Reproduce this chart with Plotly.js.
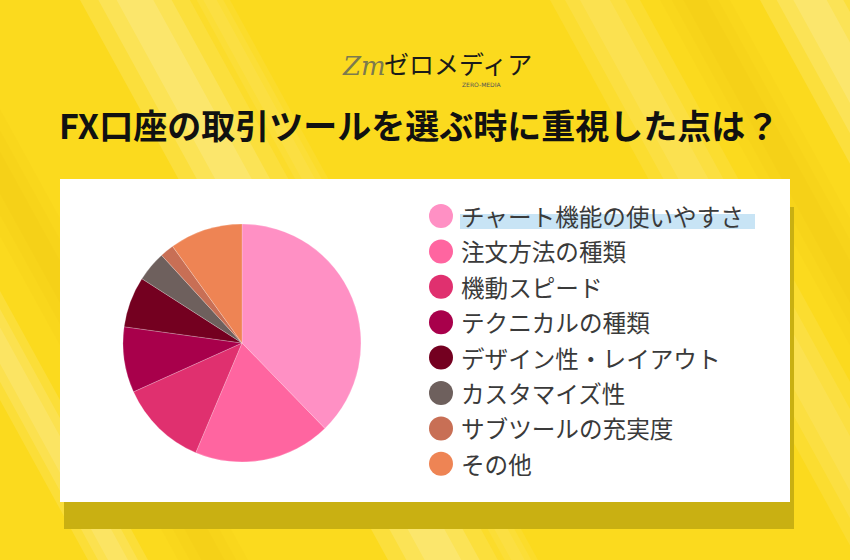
<!DOCTYPE html>
<html>
<head>
<meta charset="utf-8">
<script src="https://cdn.plot.ly/plotly-3.0.1.min.js"></script>
<style>
  html, body { margin: 0; padding: 0; background: #FBDA1E; }
  #chart { width: 850px; height: 560px; }
</style>
</head>
<body>
<div id="chart"></div>
<script>
// ---- data ----
const titleText = "FX口座の取引ツールを選ぶ時に重視した点は？";
const categories = [
  "チャート機能の使いやすさ",
  "注文方法の種類",
  "機動スピード",
  "テクニカルの種類",
  "デザイン性・レイアウト",
  "カスタマイズ性",
  "サブツールの充実度",
  "その他"
];
const values = [37.7, 18.6, 11.9, 8.9, 6.9, 4.1, 1.9, 9.9];
const colors = ["#FF90C4", "#FF65A0", "#E0306F", "#A8004B", "#740020", "#6E605D", "#C86F55", "#EE8454"];

// ---- helpers (pixel -> paper) ----
const W = 850, H = 560;
const px = x => x / W;
const py = y => 1 - y / H;

const shapes = [];
const annotations = [];

// background streaks (diagonal, "\" direction), soft
function streak(xTop, width, opacity, color) {
  const slope = 0.55;
  const layers = 3;
  for (let k = 0; k < layers; k++) {
    const inset = k * width / 6;
    const x0 = xTop + inset, x1 = xTop + width - inset;
    const b0 = x0 + slope * H, b1 = x1 + slope * H;
    shapes.push({
      type: "path", xref: "paper", yref: "paper", layer: "below",
      path: `M ${px(x0)} ${py(0)} L ${px(x1)} ${py(0)} L ${px(b1)} ${py(H)} L ${px(b0)} ${py(H)} Z`,
      fillcolor: color, opacity: opacity / layers, line: { width: 0 }
    });
  }
}
streak(80, 110, 0.40, "#FFFFFF");
streak(190, 40, 0.18, "#FFFFFF");
streak(550, 90, 0.25, "#FFFFFF");
streak(760, 100, 0.40, "#FFFFFF");
streak(-220, 60, 0.35, "#FFFFFF");
streak(-130, 70, 0.12, "#C9A000");
streak(660, 70, 0.12, "#C9A000");

// card shadow + card
shapes.push({ type: "rect", xref: "paper", yref: "paper", layer: "below",
  x0: px(64), x1: px(794), y0: py(529), y1: py(207),
  fillcolor: "#C9B012", line: { width: 0 } });
shapes.push({ type: "rect", xref: "paper", yref: "paper", layer: "below",
  x0: px(60), x1: px(790), y0: py(502), y1: py(179),
  fillcolor: "#FFFFFF", line: { width: 0 } });

// highlight under first legend label
shapes.push({ type: "rect", xref: "paper", yref: "paper", layer: "below",
  x0: px(460), x1: px(755), y0: py(229), y1: py(214),
  fillcolor: "#C8E4F5", line: { width: 0 } });

// custom legend (circles + labels)
const legX = 441, legY0 = 216, legStep = 35.4, legR = 12;
categories.forEach((c, i) => {
  const cy = legY0 + i * legStep;
  shapes.push({ type: "circle", xref: "paper", yref: "paper", layer: "above",
    x0: px(legX - legR), x1: px(legX + legR), y0: py(cy + legR), y1: py(cy - legR),
    fillcolor: colors[i], line: { width: 0 } });
  annotations.push({ xref: "paper", yref: "paper", x: px(459), y: py(cy),
    xanchor: "left", yanchor: "middle", showarrow: false, text: c,
    font: { family: "Noto Sans CJK JP, sans-serif", size: 23.6, color: "#3A3A3A" } });
});

// title
annotations.push({ xref: "paper", yref: "paper", x: px(419), y: py(125),
  xanchor: "center", yanchor: "middle", showarrow: false,
  text: "<b>" + titleText + "</b>",
  font: { family: "Noto Sans CJK JP, sans-serif", size: 34, color: "#111111" } });

// logo
annotations.push({ xref: "paper", yref: "paper", x: px(340), y: py(66),
  xanchor: "left", yanchor: "middle", showarrow: false, text: "<i>Zm</i>",
  font: { family: "DejaVu Serif, serif", size: 26, color: "#7C7A4E" } });
annotations.push({ xref: "paper", yref: "paper", x: px(382), y: py(63),
  xanchor: "left", yanchor: "middle", showarrow: false, text: "ゼロメディア",
  font: { family: "Noto Sans CJK JP, sans-serif", size: 25, color: "#1A1A1A" } });
annotations.push({ xref: "paper", yref: "paper", x: px(482), y: py(84),
  xanchor: "center", yanchor: "middle", showarrow: false, text: "ZERO-MEDIA",
  font: { family: "DejaVu Sans, sans-serif", size: 6, color: "#555555" } });

const trace = {
  type: "pie",
  labels: categories,
  values: values,
  sort: false,
  direction: "clockwise",
  rotation: 0,
  textinfo: "none",
  hoverinfo: "label+percent",
  marker: { colors: colors, line: { color: "rgba(255,255,255,0.35)", width: 0.6 } },
  domain: { x: [px(242 - 119), px(242 + 119)], y: [py(343 + 119), py(343 - 119)] },
  showlegend: false
};

const layout = {
  width: W, height: H,
  margin: { l: 0, r: 0, t: 0, b: 0 },
  paper_bgcolor: "#FBDA1E",
  plot_bgcolor: "rgba(0,0,0,0)",
  showlegend: false,
  shapes: shapes,
  annotations: annotations
};

Plotly.newPlot("chart", [trace], layout, { displayModeBar: false, staticPlot: true });
</script>
</body>
</html>
